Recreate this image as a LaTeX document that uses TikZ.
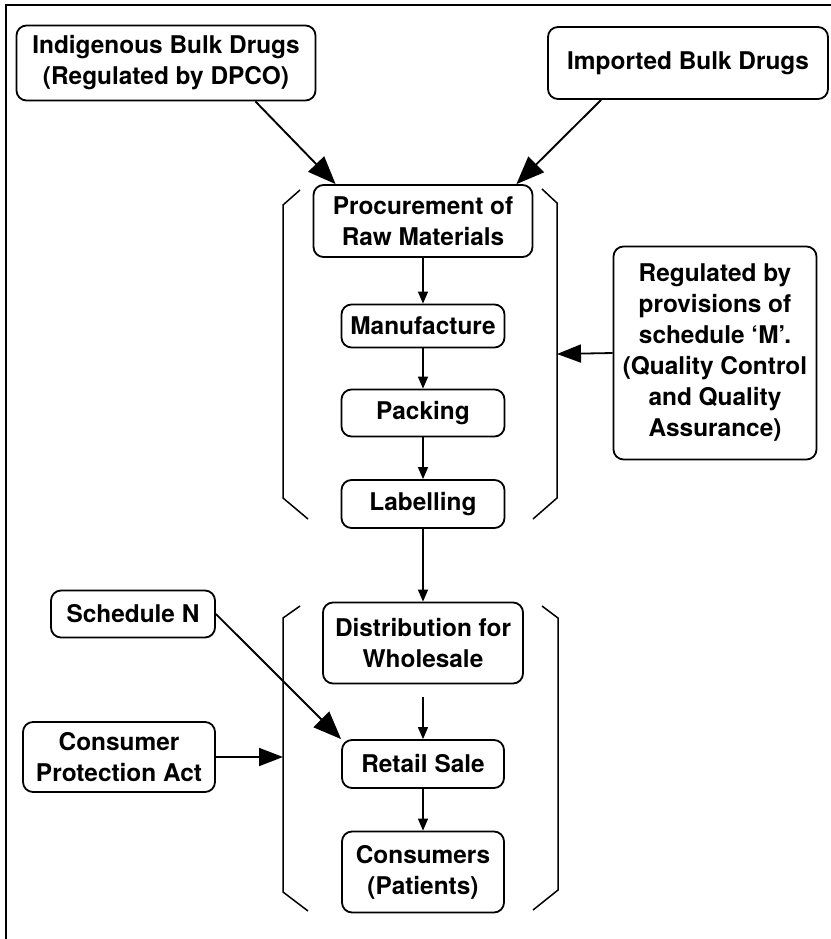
\documentclass[tikz,border=0pt]{standalone}
\usepackage{fontspec}
\setmainfont{TeX Gyre Heros}
\usetikzlibrary{positioning,arrows.meta}
\tikzset{font=\fontsize{12.2}{15.5}\selectfont\bfseries}
\tikzset{
  box/.style={draw,rounded corners=5pt,line width=0.9pt,align=center,inner sep=0pt},
  bigtip/.style={-{Triangle[length=14pt,width=11pt]},line width=0.95pt},
  sidetip/.style={-{Triangle[length=12pt,width=9pt]},line width=0.9pt},
  smalltip/.style={-{Triangle[length=6pt,width=5pt]},line width=0.7pt},
  bracket/.style={line width=0.75pt}
}

\begin{document}
\begin{tikzpicture}[x=0.5pt,y=-0.5pt]
    \useasboundingbox (0,0) rectangle (831,939);
    \draw[line width=1.2pt] (831,5) -- (6,5) -- (6,939);

    % sources
    \node[box,minimum width=149.5pt,minimum height=37.5pt] (indig) at (166,63) {Indigenous Bulk Drugs\\(Regulated by DPCO)};
    \node[box,minimum width=140pt,minimum height=36pt] (imported) at (688,63) {Imported Bulk Drugs};

    % production chain
    \node[box,minimum width=109.5pt,minimum height=36pt] (proc) at (423,221) {Procurement of\\Raw Materials};
    \node[box,minimum width=81.5pt,minimum height=21.5pt] (manuf) at (423,326) {Manufacture};
    \node[box,minimum width=81.5pt,minimum height=23.5pt] (pack) at (423,413) {Packing};
    \node[box,minimum width=81.5pt,minimum height=24pt] (labelling) at (423,504) {Labelling};
    \node[box,minimum width=101.5pt,minimum height=106.5pt] (reg) at (715,353) {Regulated by\\provisions of\\schedule ‘M’.\\(Quality Control\\and Quality\\Assurance)};

    % distribution chain
    \node[box,minimum width=100pt,minimum height=40.5pt] (distr) at (423,643) {Distribution for\\Wholesale};
    \node[box,minimum width=81pt,minimum height=24pt] (retail) at (423,764) {Retail Sale};
    \node[box,minimum width=81pt,minimum height=40.5pt] (consum) at (423,872) {Consumers\\(Patients)};
    \node[box,minimum width=82pt,minimum height=23.5pt] (schedN) at (133,614) {Schedule N};
    \node[box,minimum width=96pt,minimum height=35pt] (cpa) at (119,757) {Consumer\\Protection Act};

    % brackets
    \draw[bracket] (300,190) -- (283,205) -- (283,498) -- (308,519);
    \draw[bracket] (542,189) -- (557,203) -- (557,498) -- (533,519);
    \draw[bracket] (300,606) -- (283,618) -- (283,892) -- (308,911);
    \draw[bracket] (542,606) -- (558,618) -- (558,890) -- (533,910);
    \coordinate (brR) at (557,354);
    \coordinate (brL) at (283,757);

    % connectors
    \draw[bigtip] ([xshift=-30.5pt]indig.south east) -- ([xshift=11.5pt]proc.north west);
    \draw[bigtip] ([xshift=27pt]imported.south west) -- ([xshift=-8.5pt]proc.north east);
    \draw[smalltip] (proc) -- (manuf);
    \draw[smalltip] (manuf) -- (pack);
    \draw[smalltip] (pack) -- (labelling);
    \draw[smalltip] (labelling) -- (distr);
    \draw[smalltip] ([yshift=-6.5pt]distr.south) -- (retail);
    \draw[smalltip] (retail) -- (consum);
    \draw[sidetip] (reg.west) -- (brR);
    \draw[sidetip] (cpa.east) -- (brL);
    \draw[bigtip] (schedN.east) -- (retail.north west);
\end{tikzpicture}
\end{document}
